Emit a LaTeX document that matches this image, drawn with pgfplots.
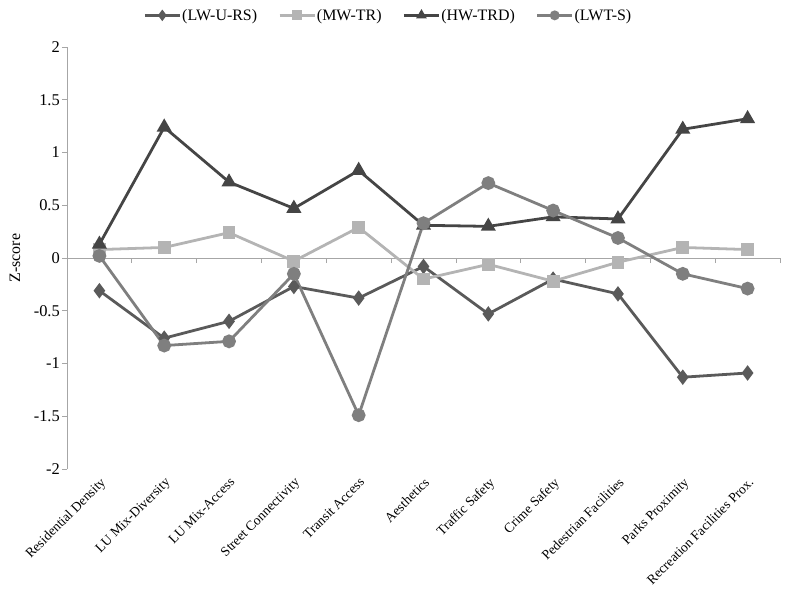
\documentclass[border=0pt]{standalone}
\usepackage{pgfplots}
\pgfplotsset{compat=1.18}
\usepackage{pgfplotstable}
\usepackage{fontspec}
\setmainfont{Liberation Serif}

\definecolor{cLW}{HTML}{5A5A5A}
\definecolor{cMW}{HTML}{B4B4B4}
\definecolor{cHW}{HTML}{454545}
\definecolor{cLWT}{HTML}{7F7F7F}
\definecolor{axgray}{HTML}{A6A6A6}

% category index, z-score
\pgfplotstableread{
x y
0 -0.31
1 -0.76
2 -0.60
3 -0.27
4 -0.38
5 -0.08
6 -0.53
7 -0.20
8 -0.34
9 -1.13
10 -1.09
}\lwurs
\pgfplotstableread{
x y
0 0.08
1 0.10
2 0.24
3 -0.03
4 0.29
5 -0.20
6 -0.06
7 -0.22
8 -0.04
9 0.10
10 0.08
}\mwtr
\pgfplotstableread{
x y
0 0.13
1 1.24
2 0.72
3 0.47
4 0.83
5 0.31
6 0.30
7 0.39
8 0.37
9 1.22
10 1.32
}\hwtrd
\pgfplotstableread{
x y
0 0.02
1 -0.83
2 -0.79
3 -0.15
4 -1.49
5 0.33
6 0.71
7 0.45
8 0.19
9 -0.15
10 -0.29
}\lwts

\begin{document}
\begin{tikzpicture}
\useasboundingbox (-67bp,-121bp) rectangle (733bp,469bp);
\begin{axis}[
  scale only axis,
  width=713bp, height=422bp,
  at={(0,0)}, anchor=south west,
  xmin=-0.5, xmax=10.5,
  ymin=-2, ymax=2,
  axis x line=middle,
  axis y line=left,
  axis line style={axgray, line width=1pt, -},
  xtick={0,...,10},
  xticklabels={Residential Density, LU Mix-Diversity, LU Mix-Access, Street Connectivity,
    Transit Access, Aesthetics, Traffic Safety, Crime Safety, Pedestrian Facilities,
    Parks Proximity, Recreation Facilities Prox.},
  minor xtick={-0.5,0.5,...,10.5},
  major x tick style={draw=none},
  minor x tick style={axgray, line width=0.8pt},
  ytick={-2,-1.5,...,2},
  yticklabels={-2,-1.5,-1,-0.5,0,0.5,1,1.5,2},
  y tick style={axgray, line width=0.8pt},
  tick align=outside,
  major tick length=5bp, minor tick length=5bp,
  xticklabel shift=212bp,
  x tick label style={font=\fontsize{13.6}{15}\selectfont, rotate=45, anchor=north east, inner sep=1pt},
  y tick label style={font=\fontsize{16.5}{18}\selectfont, inner sep=2pt},
  ylabel={Z-score},
  every axis y label/.style={at={(axis description cs:-0.073,0.5)}, rotate=90, anchor=center,
    font=\fontsize{16}{18}\selectfont},
  legend columns=4,
  legend style={draw=none, at={(0.45,1.075)}, anchor=center,
    font=\fontsize{16}{18}\selectfont, inner sep=0pt,
    /tikz/every odd column/.append style={column sep=0pt},
    /tikz/every even column/.append style={column sep=20bp},
    nodes={inner sep=1pt}},
  legend image code/.code={%
    \draw[mark repeat=2,mark phase=2,#1, mark size=3.5pt] plot coordinates {(0bp,0bp) (17.5bp,0bp) (35bp,0bp)};},
  every axis plot/.append style={line width=2.8pt, mark options={solid, line width=0pt}},
  clip=false,
]
\addplot[color=cLW, mark=diamond*, mark size=5.5pt, mark options={fill=cLW}] table {\lwurs};
\addlegendentry{(LW-U-RS)}
\addplot[color=cMW, mark=square*, mark size=5pt, mark options={fill=cMW}] table {\mwtr};
\addlegendentry{(MW-TR)}
\addplot[color=cHW, mark=triangle*, mark size=6pt, mark options={fill=cHW}] table {\hwtrd};
\addlegendentry{(HW-TRD)}
\addplot[color=cLWT, mark=*, mark size=5.5pt, mark options={fill=cLWT}] table {\lwts};
\addlegendentry{(LWT-S)}
\end{axis}
\end{tikzpicture}
\end{document}
